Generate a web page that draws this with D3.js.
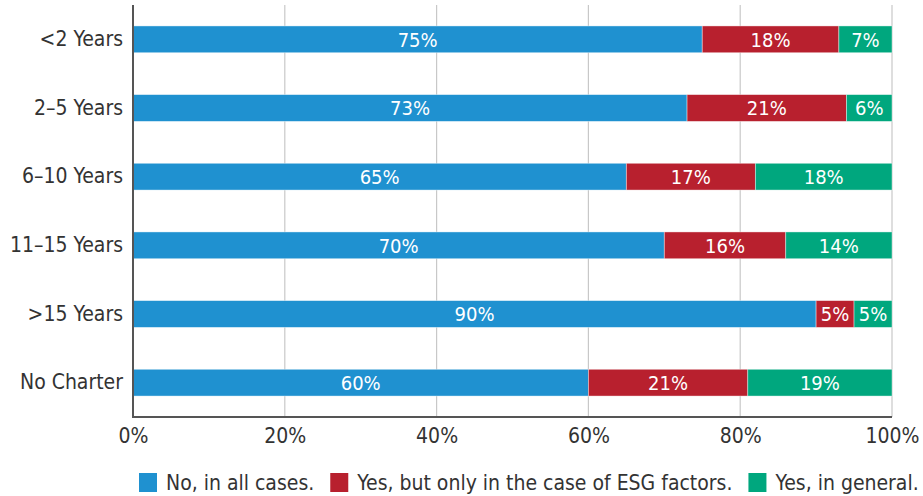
<!DOCTYPE html>
<html lang="en">
<head>
<meta charset="UTF-8">
<title>Stacked bars</title>
<script src="https://d3js.org/d3.v7.min.js"></script>
<style>
  body { margin: 0; background: #fff; }
  text { font-family: "DejaVu Sans", sans-serif; font-stretch: condensed; }
</style>
</head>
<body>
<svg width="923" height="496"></svg>
<script>
    // data
    let categories = ["<2 Years", "2\u20135 Years", "6\u201310 Years", "11\u201315 Years", ">15 Years", "No Charter"]
    let noAll = [75, 73, 65, 70, 90, 60]
    let yesEsg = [18, 21, 17, 16, 5, 21]
    let yesGeneral = [7, 6, 18, 14, 5, 19]
    let seriesNames = ["No, in all cases.", "Yes, but only in the case of ESG factors.", "Yes, in general."]
    let colors = ["#1f91d0", "#b8202e", "#00a77e"]
    let xTicks = [0, 20, 40, 60, 80, 100]

    let svg = d3.select('svg')
    let mLeft = 133, mRight = 892, mTop = 5, mBottom = 417

    let x = d3.scaleLinear().domain([0, 100]).range([mLeft, mRight])
    let y = d3.scaleBand().domain(categories).range([mTop, mBottom]).paddingInner(0.61).paddingOuter(0.305)

    let rows = categories.map((c, i) => ({cat: c, v: [noAll[i], yesEsg[i], yesGeneral[i]]}))

    // grid
    svg.append("g")
        .selectAll("line")
        .data(xTicks.slice(1))
        .enter()
        .append("line")
        .attr("x1", d => x(d)).attr("x2", d => x(d))
        .attr("y1", mTop).attr("y2", mBottom)
        .attr("stroke", "#c8c8c8")
        .attr("stroke-width", 1.2)

    // bars
    let segs = []
    rows.forEach(r => {
        let acc = 0
        r.v.forEach((v, k) => {
            segs.push({cat: r.cat, x0: acc, x1: acc + v, v: v, k: k})
            acc += v
        })
    })

    let g = svg.append("g")
    g.selectAll("rect")
        .data(segs)
        .enter()
        .append("rect")
        .attr("x", d => x(d.x0))
        .attr("width", d => x(d.x1) - x(d.x0))
        .attr("y", d => y(d.cat))
        .attr("height", y.bandwidth())
        .attr("fill", d => colors[d.k])
        .attr("stroke", "#fff")
        .attr("stroke-opacity", 0.5)
        .attr("stroke-width", 0.8)

    g.selectAll("text")
        .data(segs)
        .enter()
        .append("text")
        .attr("x", d => (x(d.x0) + x(d.x1)) / 2)
        .attr("y", d => y(d.cat) + y.bandwidth() / 2)
        .attr("dy", "0.36em")
        .attr("text-anchor", "middle")
        .attr("fill", "#fff")
        .style("font-size", "20px")
        .text(d => d.v + "%")

    // axes
    let yAxis = svg.append("g")
        .attr("transform", `translate(${mLeft},0)`)
        .call(d3.axisLeft(y).tickSize(0).tickPadding(10))
    yAxis.select(".domain").attr("stroke", "#555").attr("stroke-width", 2)
        .attr("d", `M0,${mTop}V${mBottom}`)
    yAxis.selectAll("text").style("font-size", "21px").attr("fill", "#333")

    let xAxis = svg.append("g")
        .attr("transform", `translate(0,${mBottom})`)
        .call(d3.axisBottom(x).tickValues(xTicks).tickFormat(d => d + "%").tickSize(0).tickPadding(11))
    xAxis.select(".domain").attr("stroke", "#555").attr("stroke-width", 2)
        .attr("d", `M${mLeft - 1},0H${mRight}`)
    xAxis.selectAll("text").style("font-size", "21px").attr("fill", "#333")

    // legend, items placed one after another by measured text width
    let legend = svg.append("g").attr("transform", "translate(139,473)")
    let cursor = 0
    seriesNames.forEach((n, k) => {
        let lg = legend.append("g").attr("transform", `translate(${cursor},0)`)
        lg.append("rect").attr("width", 18).attr("height", 19).attr("fill", colors[k])
        let t = lg.append("text").attr("x", 27).attr("y", 9.5).attr("dy", "0.36em")
            .style("font-size", "21px").attr("fill", "#333").text(n)
        cursor += 27 + t.node().getComputedTextLength() + 16
    })
</script>
</body>
</html>
